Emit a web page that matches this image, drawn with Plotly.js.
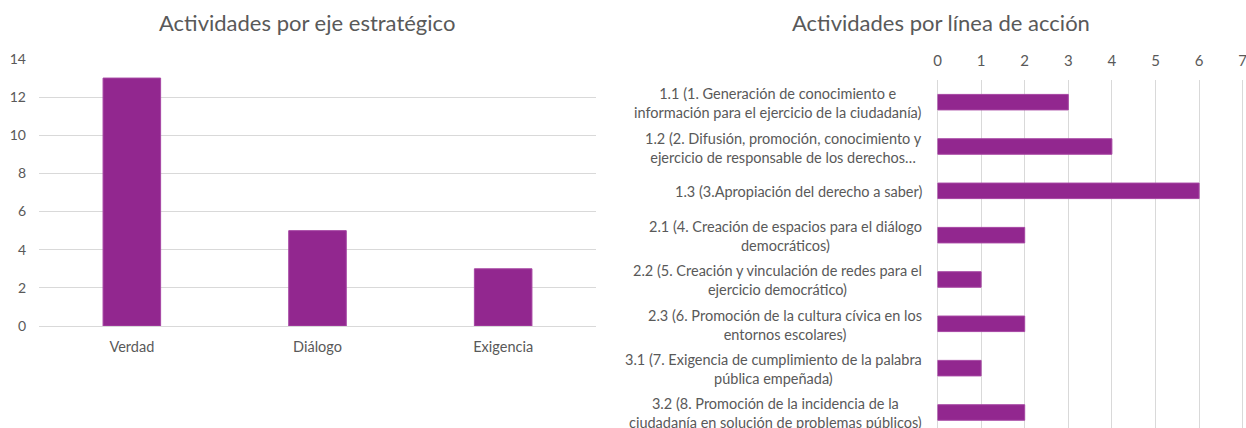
<!DOCTYPE html>
<html>
<head>
<meta charset="utf-8">
<script src="https://cdn.plot.ly/plotly-3.0.1.min.js"></script>
<style>
  html, body { margin: 0; padding: 0; background: #ffffff; overflow: hidden; }
  #chart { width: 1246px; height: 428px; }
</style>
</head>
<body>
<div id="chart"></div>
<script>
// ---- Data ----
const ejeCategories = ['Verdad', 'Diálogo', 'Exigencia'];
const ejeValues = [13, 5, 3];
const ejeTicks = [0, 2, 4, 6, 8, 10, 12, 14];

const lineaCodes = ['1.1', '1.2', '1.3', '2.1', '2.2', '2.3', '3.1', '3.2'];
const lineaLabels = [
  '1.1 (1. Generación de conocimiento e<br>información para el ejercicio de la ciudadanía)',
  '1.2 (2. Difusión, promoción, conocimiento y<br>ejercicio de responsable de los derechos…',
  '1.3 (3.Apropiación del derecho a saber)',
  '2.1 (4. Creación de espacios para el diálogo<br>democráticos)',
  '2.2 (5. Creación y vinculación de redes para el<br>ejercicio democrático)',
  '2.3 (6. Promoción de la cultura cívica en los<br>entornos escolares)',
  '3.1 (7. Exigencia de cumplimiento de la palabra<br>pública empeñada)',
  '3.2 (8. Promoción de la incidencia de la<br>ciudadanía en solución de problemas públicos)'
];
const lineaValues = [3, 4, 6, 2, 1, 2, 1, 2];
const lineaTicks = [0, 1, 2, 3, 4, 5, 6, 7];

const titles = ['Actividades por eje estratégico', 'Actividades por línea de acción'];

// ---- Styles ----
const FONT = 'Lato, "Open Sans", sans-serif';
const TXT = '#595959';
const GRID = '#d9d9d9';
const BAR = '#92278f';
const BAR_LINE = '#a646a3';
const W = 1246, H = 428;

const traces = [
  {
    type: 'bar',
    x: ejeCategories,
    y: ejeValues,
    xaxis: 'x', yaxis: 'y',
    width: 0.31,
    marker: { color: BAR, line: { color: BAR_LINE, width: 1 } },
    hoverinfo: 'x+y'
  },
  {
    type: 'bar',
    orientation: 'h',
    x: lineaValues,
    y: lineaCodes,
    xaxis: 'x2', yaxis: 'y2',
    width: 0.35,
    marker: { color: BAR, line: { color: BAR_LINE, width: 1 } },
    hoverinfo: 'x+y'
  }
];

const annotations = [
  {
    text: titles[0], xref: 'paper', yref: 'paper',
    x: 307 / W, y: 1 - 23 / H, xanchor: 'center', yanchor: 'middle',
    showarrow: false, font: { family: FONT, size: 22, color: TXT }
  },
  {
    text: titles[1], xref: 'paper', yref: 'paper',
    x: 941 / W, y: 1 - 23 / H, xanchor: 'center', yanchor: 'middle',
    showarrow: false, font: { family: FONT, size: 22, color: TXT }
  }
];
lineaCodes.forEach((c, i) => {
  annotations.push({
    text: lineaLabels[i],
    xref: 'x2 domain', yref: 'y2',
    x: 0, y: i, xanchor: 'right', yanchor: 'middle',
    xshift: -14, yshift: -1, align: 'center', showarrow: false,
    font: { family: FONT, size: 14.5, color: TXT }
  });
});

const layout = {
  width: W, height: H,
  margin: { l: 0, r: 0, t: 0, b: 0 },
  paper_bgcolor: '#ffffff', plot_bgcolor: '#ffffff',
  showlegend: false,
  font: { family: FONT, color: TXT, size: 14 },
  xaxis: {
    domain: [39 / W, 596 / W],
    anchor: 'y',
    type: 'category',
    showgrid: false, zeroline: false, showline: false,
    ticks: '', ticklabelstandoff: 10,
    tickfont: { family: FONT, size: 14.5, color: TXT },
    fixedrange: true
  },
  yaxis: {
    domain: [(H - 326) / H, (H - 59) / H],
    anchor: 'x',
    range: [0, 14],
    tickvals: ejeTicks,
    showgrid: true, gridcolor: GRID, gridwidth: 1,
    zeroline: true, zerolinecolor: GRID, zerolinewidth: 1,
    showline: false, ticks: '', ticklabelstandoff: 12,
    tickfont: { family: FONT, size: 14, color: TXT },
    fixedrange: true
  },
  xaxis2: {
    domain: [937.5 / W, 1],
    anchor: 'y2',
    side: 'top',
    range: [0, 7.076],
    tickvals: lineaTicks,
    showgrid: true, gridcolor: GRID, gridwidth: 1,
    zeroline: true, zerolinecolor: GRID, zerolinewidth: 1,
    showline: false, ticks: '', ticklabelstandoff: 10,
    ticklabeloverflow: 'allow',
    tickfont: { family: FONT, size: 15, color: TXT },
    fixedrange: true
  },
  yaxis2: {
    domain: [0, (H - 80) / H],
    anchor: 'x2',
    type: 'category',
    categoryorder: 'array',
    categoryarray: lineaCodes,
    range: [7.35, -0.5],
    showgrid: false, zeroline: false, showline: false,
    showticklabels: false, ticks: '',
    fixedrange: true
  },
  annotations: annotations
};

Plotly.newPlot('chart', traces, layout, { displayModeBar: false, staticPlot: true });
</script>
</body>
</html>
